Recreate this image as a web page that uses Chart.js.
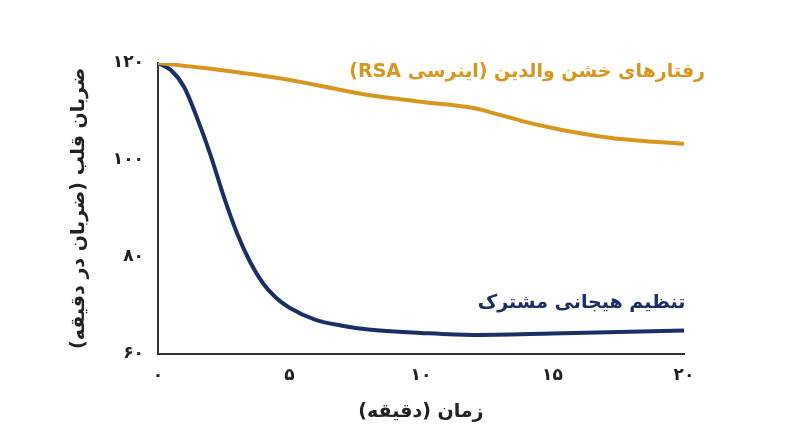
<!DOCTYPE html>
<html><head><meta charset="utf-8">
<script src="https://cdn.jsdelivr.net/npm/chart.js@4/dist/chart.umd.min.js"></script>
<style>body{margin:0;background:#fff}</style></head>
<body><canvas id="c" width="800" height="447"></canvas>
<script>
const rsaMinutes = [0,2,5,8,10,12,13,14,15,17,20];
const rsaHeart = [120,118.8,116.5,113.4,112,110.7,109.3,107.8,106.6,104.7,103.3];
const emoMinutes = [0,0.5,1,1.5,2,2.5,3,3.5,4,4.5,5,6,7,8,10,12,15,20];
const emoHeart = [120,118.5,115,108.5,101,92.5,85,79,74.5,71.5,69.5,67,65.8,65,64.3,63.9,64.2,64.8];
const xTicks = {0:'۰',5:'۵',10:'۱۰',15:'۱۵',20:'۲۰'};
const yTicks = {60:'۶۰',80:'۸۰',100:'۱۰۰',120:'۱۲۰'};
const rsaLabel = 'رفتارهای خشن والدین (اینرسی RSA)';
const emoLabel = 'تنظیم هیجانی مشترک';
const F = 'DejaVu Sans';
const labels = {
  id:'labels',
  afterDatasetsDraw(ch){
    const c=ch.ctx, x=ch.scales.x, y=ch.scales.y;
    c.save(); c.font='bold 19px "'+F+'"'; c.textAlign='right'; c.direction='rtl';
    c.fillStyle='#D9961F'; c.fillText(rsaLabel, x.getPixelForValue(20.8), y.getPixelForValue(117.2));
    c.fillStyle='#1B2F66'; c.fillText(emoLabel, x.getPixelForValue(20.05), y.getPixelForValue(69.4));
    c.restore();
  }
};
new Chart(document.getElementById('c'),{
  type:'line',
  data:{datasets:[
    {data:rsaMinutes.map((m,i)=>({x:m,y:rsaHeart[i]})),borderColor:'#D9961F',borderWidth:4,pointRadius:0,cubicInterpolationMode:'monotone'},
    {data:emoMinutes.map((m,i)=>({x:m,y:emoHeart[i]})),borderColor:'#1B2F66',borderWidth:4,pointRadius:0,cubicInterpolationMode:'monotone'}
  ]},
  options:{responsive:false,animation:false,
    layout:{padding:{left:64,right:116,top:63,bottom:20}},
    plugins:{legend:{display:false},tooltip:{enabled:false}},
    scales:{
      x:{type:'linear',min:0,max:20,grid:{display:false,drawTicks:false},border:{color:'#333',width:2},
        ticks:{stepSize:5,padding:12,color:'#222',font:{family:F,size:17,weight:'bold'},callback:v=>xTicks[v]},
        title:{display:true,text:'زمان (دقیقه)',color:'#222',font:{family:F,size:19,weight:'bold'},padding:{top:2}}},
      y:{min:60,max:120,grid:{display:false,drawTicks:false},border:{color:'#333',width:2},
        ticks:{stepSize:20,padding:14,color:'#222',font:{family:F,size:17,weight:'bold'},callback:v=>yTicks[v]},
        title:{display:true,text:'ضربان قلب (ضربان در دقیقه)',color:'#222',font:{family:F,size:19,weight:'bold'},padding:{bottom:8}}}
    }
  },
  plugins:[labels]
});
</script></body></html>
